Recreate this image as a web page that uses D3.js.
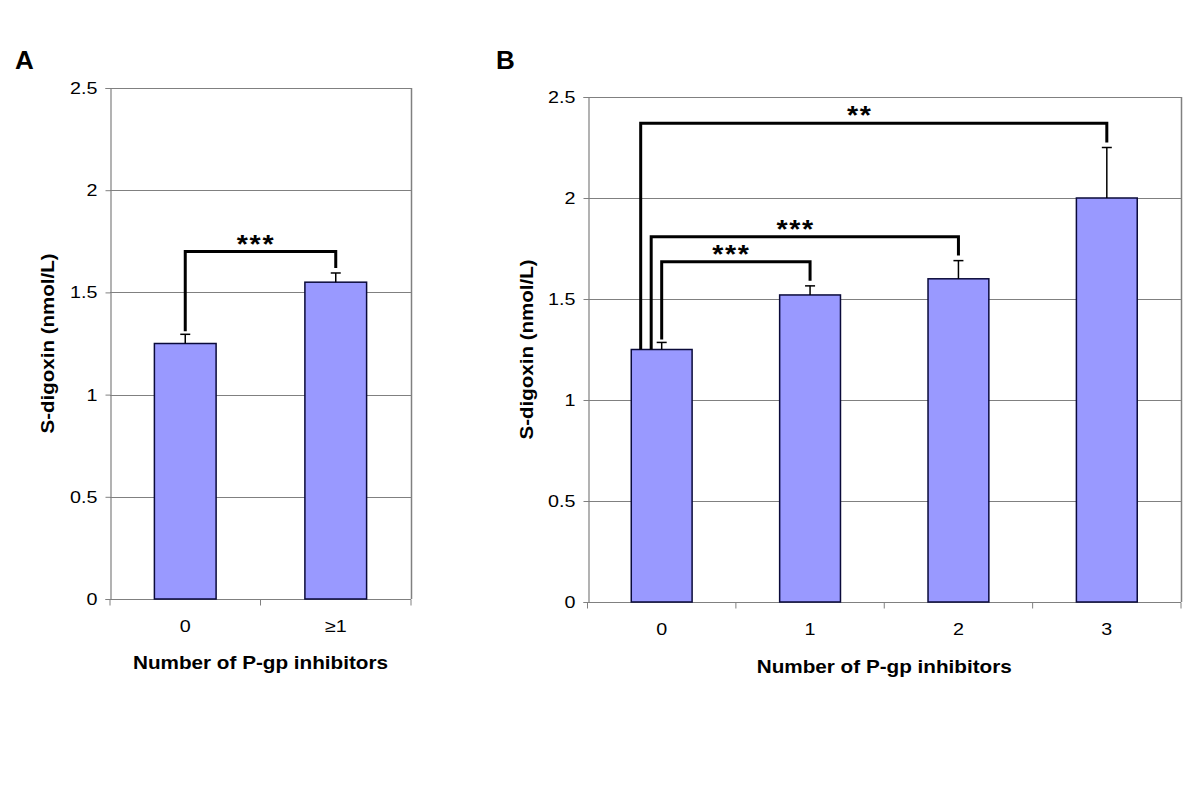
<!DOCTYPE html>
<html>
<head>
<meta charset="utf-8">
<script src="https://cdn.jsdelivr.net/npm/d3@7"></script>
<style>
  html, body { margin: 0; padding: 0; background: #fff; }
  svg text { font-family: "Liberation Sans", Arial, sans-serif; }
</style>
</head>
<body>
<svg id="chart" width="1200" height="787"></svg>
<script>
// ---- data ----
const yTicks = [0, 0.5, 1, 1.5, 2, 2.5];
const yTickLabels = ["0", "0.5", "1", "1.5", "2", "2.5"];

const catsA = ["0", "\u22651"];
const meansA = [1.25, 1.55];
const errA = [0.045, 0.045];
const bracketFromA = [0];
const bracketToA = [1];
const bracketLevelA = [1.70];
const bracketLabelA = ["***"];

const catsB = ["0", "1", "2", "3"];
const meansB = [1.25, 1.52, 1.60, 2.00];
const errB = [0.035, 0.045, 0.09, 0.25];
const bracketFromB = [0, 0, 0];
const bracketToB = [1, 2, 3];
const bracketLevelB = [1.685, 1.808, 2.37];
const bracketLabelB = ["***", "***", "**"];

const yTitle = "S-digoxin (nmol/L)";
const xTitle = "Number of P-gp inhibitors";

// ---- drawing ----
const svg = d3.select("#chart");
svg.append("rect").attr("width", 1200).attr("height", 787).attr("fill", "#fff");
const SX = 1.16; // horizontal stretch of the lettering

function panel(opt) {
  const { letter, letterX, cats, means, errs, from, to, levels, labels,
          x0, x1, yBottom, yTop, titleX, tickLabelY, xTitleY } = opt;
  const g = svg.append("g");
  const x = d3.scaleBand().domain(cats).range([x0, x1]).padding(0);
  const y = d3.scaleLinear().domain([0, 2.5]).range([yBottom, yTop]);
  const barW = x.bandwidth() * 0.41;
  const cx = c => x(c) + x.bandwidth() / 2;

  // gridlines
  g.append("g").selectAll("line").data(yTicks.filter(d => d > 0)).join("line")
    .attr("x1", x0).attr("x2", x1)
    .attr("y1", d => Math.round(y(d)) + 0.5).attr("y2", d => Math.round(y(d)) + 0.5)
    .attr("stroke", "#808080").attr("stroke-width", 1);
  // right border
  g.append("line").attr("x1", x1 + 0.5).attr("x2", x1 + 0.5)
    .attr("y1", y(2.5)).attr("y2", y(0))
    .attr("stroke", "#808080").attr("stroke-width", 1.5);

  // y axis
  const yAxis = d3.axisLeft(y).tickValues(yTicks)
    .tickFormat((d, i) => yTickLabels[i]).tickSize(5).tickPadding(8);
  const ya = g.append("g").attr("transform", `translate(${Math.round(x0) + 0.5},0)`).call(yAxis);
  ya.select(".domain").attr("stroke", "#808080").attr("stroke-width", 1.2);
  ya.selectAll(".tick line").attr("stroke", "#808080");
  ya.selectAll(".tick text").each(function () {
    const t = d3.select(this);
    const tx = +t.attr("x");
    t.attr("x", 0).attr("transform", `translate(${tx},0) scale(${SX},1)`);
  }).attr("font-size", 17).attr("fill", "#000")
    .style("font-family", "'Liberation Sans', Arial, sans-serif");

  // x axis: ticks at band boundaries
  const xa = g.append("g").attr("transform", `translate(0,${Math.round(y(0)) + 0.5})`);
  xa.append("line").attr("x1", x0).attr("x2", x1).attr("stroke", "#808080").attr("stroke-width", 1.2);
  const bounds = cats.map(c => x(c)).concat([x1]);
  xa.selectAll("line.tk").data(bounds).join("line").attr("class", "tk")
    .attr("x1", d => d).attr("x2", d => d).attr("y1", 0).attr("y2", 6)
    .attr("stroke", "#808080");
  xa.selectAll("text").data(cats).join("text")
    .attr("transform", d => `translate(${cx(d)},${tickLabelY - y(0)}) scale(${SX},1)`)
    .attr("text-anchor", "middle").attr("font-size", 17).attr("fill", "#000")
    .text(d => d);

  // bars
  g.append("g").selectAll("rect").data(cats).join("rect")
    .attr("x", d => cx(d) - barW / 2).attr("width", barW)
    .attr("y", (d, i) => y(means[i])).attr("height", (d, i) => y(0) - y(means[i]))
    .attr("fill", "#9999FF").attr("stroke", "#0a0a3a").attr("stroke-width", 1.5);

  // error bars
  const eb = g.append("g").attr("stroke", "#000").attr("stroke-width", 1.5);
  cats.forEach((c, i) => {
    eb.append("line").attr("x1", cx(c)).attr("x2", cx(c))
      .attr("y1", y(means[i])).attr("y2", y(means[i] + errs[i]));
    eb.append("line").attr("x1", cx(c) - 5).attr("x2", cx(c) + 5)
      .attr("y1", y(means[i] + errs[i])).attr("y2", y(means[i] + errs[i]));
  });

  // significance brackets
  const bg = g.append("g");
  levels.forEach((lv, k) => {
    const off = k * 10.5; // outer brackets start further left
    const a = from[k], b = to[k];
    const xl = cx(cats[a]) - off;
    const xr = cx(cats[b]);
    const yl = off === 0 ? y(means[a] + errs[a]) - 3 : y(means[a]);
    const yr = y(means[b] + errs[b]) - 5;
    const yb = y(lv);
    bg.append("path")
      .attr("d", `M${xl},${yl} V${yb} H${xr} V${yr}`)
      .attr("fill", "none").attr("stroke", "#000").attr("stroke-width", 3);
    bg.append("text")
      .attr("transform", `translate(${xl + (xr - xl) * 0.47},${yb + 1}) scale(1.1,1)`)
      .attr("text-anchor", "middle").attr("font-size", 26).attr("font-weight", "bold")
      .attr("letter-spacing", 1.5)
      .text(labels[k]);
  });

  // titles
  g.append("text")
    .attr("transform", `translate(${titleX},${(yTop + yBottom) / 2}) rotate(-90) scale(1.14,1)`)
    .attr("text-anchor", "middle").attr("font-size", 18).attr("font-weight", "bold")
    .text(yTitle);
  g.append("text")
    .attr("transform", `translate(${(x0 + x1) / 2},${xTitleY}) scale(1.15,1)`)
    .attr("text-anchor", "middle").attr("font-size", 18).attr("font-weight", "bold")
    .text(xTitle);
  g.append("text").attr("x", letterX).attr("y", 69)
    .attr("font-size", 26).attr("font-weight", "bold").text(letter);
}

panel({
  letter: "A", letterX: 15, cats: catsA, means: meansA, errs: errA,
  from: bracketFromA, to: bracketToA, levels: bracketLevelA, labels: bracketLabelA,
  x0: 110, x1: 411, yBottom: 599, yTop: 88, titleX: 54, tickLabelY: 631, xTitleY: 669
});
panel({
  letter: "B", letterX: 496, cats: catsB, means: meansB, errs: errB,
  from: bracketFromB, to: bracketToB, levels: bracketLevelB, labels: bracketLabelB,
  x0: 587.5, x1: 1181, yBottom: 602, yTop: 97, titleX: 533, tickLabelY: 634, xTitleY: 673
});
</script>
</body>
</html>
